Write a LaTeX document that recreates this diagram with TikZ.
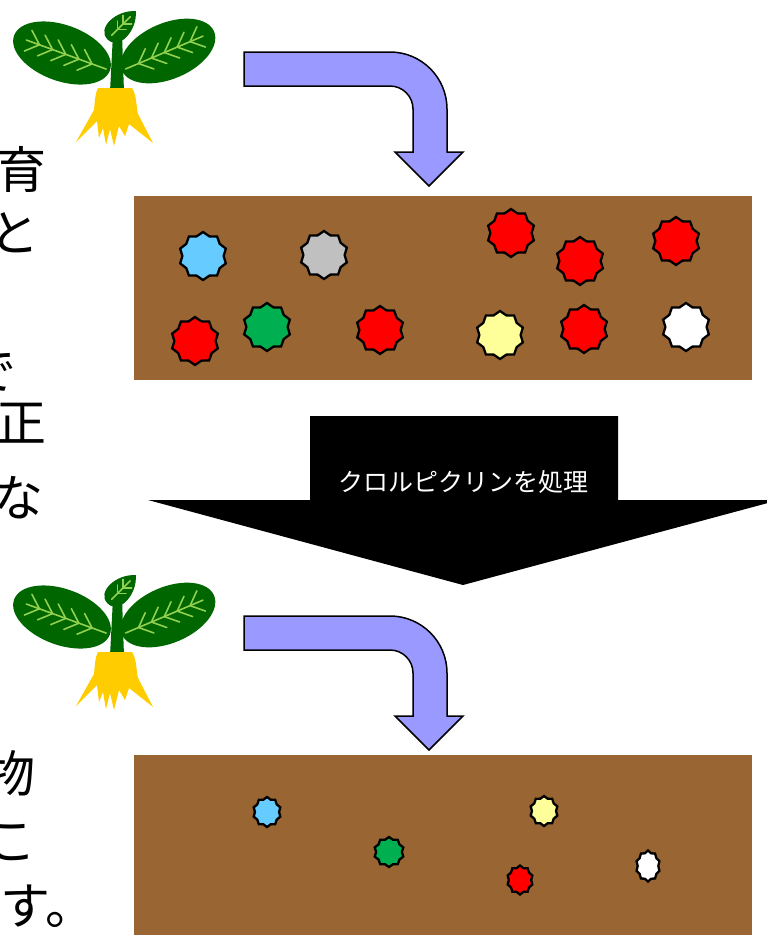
\documentclass[tikz,border=0pt]{standalone}
\usepackage{fontspec}
\newfontfamily\jpfont{Noto Sans CJK JP}
\usetikzlibrary{arrows.meta,positioning}

\definecolor{soilbrown}{HTML}{996633}
\definecolor{arrowblue}{HTML}{9999FF}
\definecolor{leafgreen}{HTML}{006600}
\definecolor{veingreen}{HTML}{92D050}
\definecolor{rootyellow}{HTML}{FFCC00}
\definecolor{mbred}{HTML}{FF0000}
\definecolor{mbblue}{HTML}{66CCFF}
\definecolor{mbgray}{HTML}{C0C0C0}
\definecolor{mbgreen}{HTML}{00B050}
\definecolor{mbyellow}{HTML}{FFFF99}

% one colony in the soil: a ten-point star, #1 #2 centre, #3 #4 radii
\newcommand{\colony}[5]{%
  \filldraw[colonyline, fill=#5] plot[samples at={90,108,...,432}]
    ({#1+#3*(0.93+0.07*cos(10*\x-900))*cos(\x)},
     {#2-#4*(0.93+0.07*cos(10*\x-900))*sin(\x)}) -- cycle;}

\tikzset{
  vein/.style={draw=veingreen, line width=1.6pt, line cap=round},
  plant/.pic={
    % stem
    \fill[leafgreen] (113,34) -- (122,34) -- (124,92) -- (110,92) -- cycle;
    % roots
    \fill[rootyellow] (98,88) -- (132,88) .. controls (137,96) and (136,106) .. (138,114)
      -- (153,143) -- (129,124) -- (125,136) -- (119,126) -- (114,146) -- (110,129)
      -- (106,145) -- (103,128) -- (99,138) -- (97,121) -- (76,142)
      -- (94,110) .. controls (95,100) and (95,94) .. (98,88) -- cycle;
    % left leaf
    \begin{scope}[shift={(62,53)}, rotate=-20]
      \fill[leafgreen] (0,0) ellipse [x radius=51, y radius=28];
      \draw[vein] (-38,0) -- (47,0);
      \foreach \s in {-24,-10,4,18,32}
        \draw[vein] (\s-12,-11) -- (\s,0) -- (\s-12,11);
    \end{scope}
    % right leaf
    \begin{scope}[shift={(168,51)}, rotate=23]
      \fill[leafgreen] (0,0) ellipse [x radius=50, y radius=28];
      \draw[vein] (-46,0) -- (38,0);
      \foreach \s in {-32,-18,-4,10,24}
        \draw[vein] (\s+12,-11) -- (\s,0) -- (\s+12,11);
    \end{scope}
    % top leaf
    \begin{scope}[shift={(121,26)}, rotate=45]
      \fill[leafgreen] (-19,0) .. controls (-19,-16) and (8,-15) .. (21,0)
        .. controls (8,15) and (-19,16) .. (-19,0) -- cycle;
      \draw[vein] (-13,0) -- (13,0);
      \foreach \s in {-5,3}
        \draw[vein] (\s+6,-6) -- (\s,0) -- (\s+6,6);
    \end{scope}
  },
  bendarrow/.pic={
    \filldraw[fill=arrowblue, draw=black, line width=1.5pt, line join=miter]
      (244,52) -- (390,52) arc[start angle=-90, end angle=0, radius=57]
      -- (447,152) -- (463,152) -- (429,186) -- (395,152) -- (413,152) -- (413,109)
      arc[start angle=0, end angle=-90, radius=23] -- (244,86) -- cycle;
  }
}

\begin{document}
\begin{tikzpicture}[x=1pt, y=-1pt,
    colonyline/.style={draw=black, line width=2.3pt, line join=miter},
    soil/.style={fill=soilbrown},
    sidetext/.style={font=\jpfont\fontsize{50}{50}\selectfont, inner sep=0pt},
    labeltext/.style={font=\jpfont\fontsize{25}{25}\selectfont, text=white, inner sep=0pt}
  ]
  \useasboundingbox (0,0) rectangle (767,935);
  \clip (0,0) rectangle (767,935);

  % text running off the left edge
  \node[sidetext] (l1) at (21,169) {育};
  \node[sidetext] (l2) at (15,233) {と};
  \node[sidetext] (l3) at (-8,372) {で};
  \node[sidetext] (l4) at (21,423) {正};
  \node[sidetext] (l5) at (19,498) {な};
  \node[sidetext] (l6) at (10,773) {物};
  \node[sidetext] (l7) at (12,843) {こ};
  \node[sidetext, anchor=west] (l8) at (0,906) {す。};

  % before treatment
  \pic at (0,0) {plant};
  \pic at (0,0) {bendarrow};
  \fill[soil] (134,196) rectangle (752,380);
  \colony{203}{256}{24}{24}{mbblue}
  \colony{324}{255}{24}{24}{mbgray}
  \colony{511}{233}{24}{24}{mbred}
  \colony{580}{261}{24}{24}{mbred}
  \colony{676}{241}{24}{24}{mbred}
  \colony{195}{341}{24}{24}{mbred}
  \colony{267}{327}{24}{24}{mbgreen}
  \colony{380}{330}{24}{24}{mbred}
  \colony{500}{335}{24}{24}{mbyellow}
  \colony{584}{329}{24}{24}{mbred}
  \colony{686}{327}{24}{24}{white}

  % treatment arrow
  \fill (310,416) -- (618,416) -- (618,500) -- (779,500) -- (463,585)
    -- (148,500) -- (310,500) -- cycle;
  \node[labeltext] (treat) at (463,482) {クロルピクリンを処理};

  % after treatment
  \pic at (0,564) {plant};
  \pic at (0,564) {bendarrow};
  \fill[soil] (134,755) rectangle (752,935);
  \colony{267}{812}{14}{15}{mbblue}
  \colony{544}{811}{14}{15}{mbyellow}
  \colony{389}{852}{15}{15}{mbgreen}
  \colony{520}{880}{13}{14.5}{mbred}
  \colony{648}{866}{12}{15.5}{white}
\end{tikzpicture}
\end{document}
